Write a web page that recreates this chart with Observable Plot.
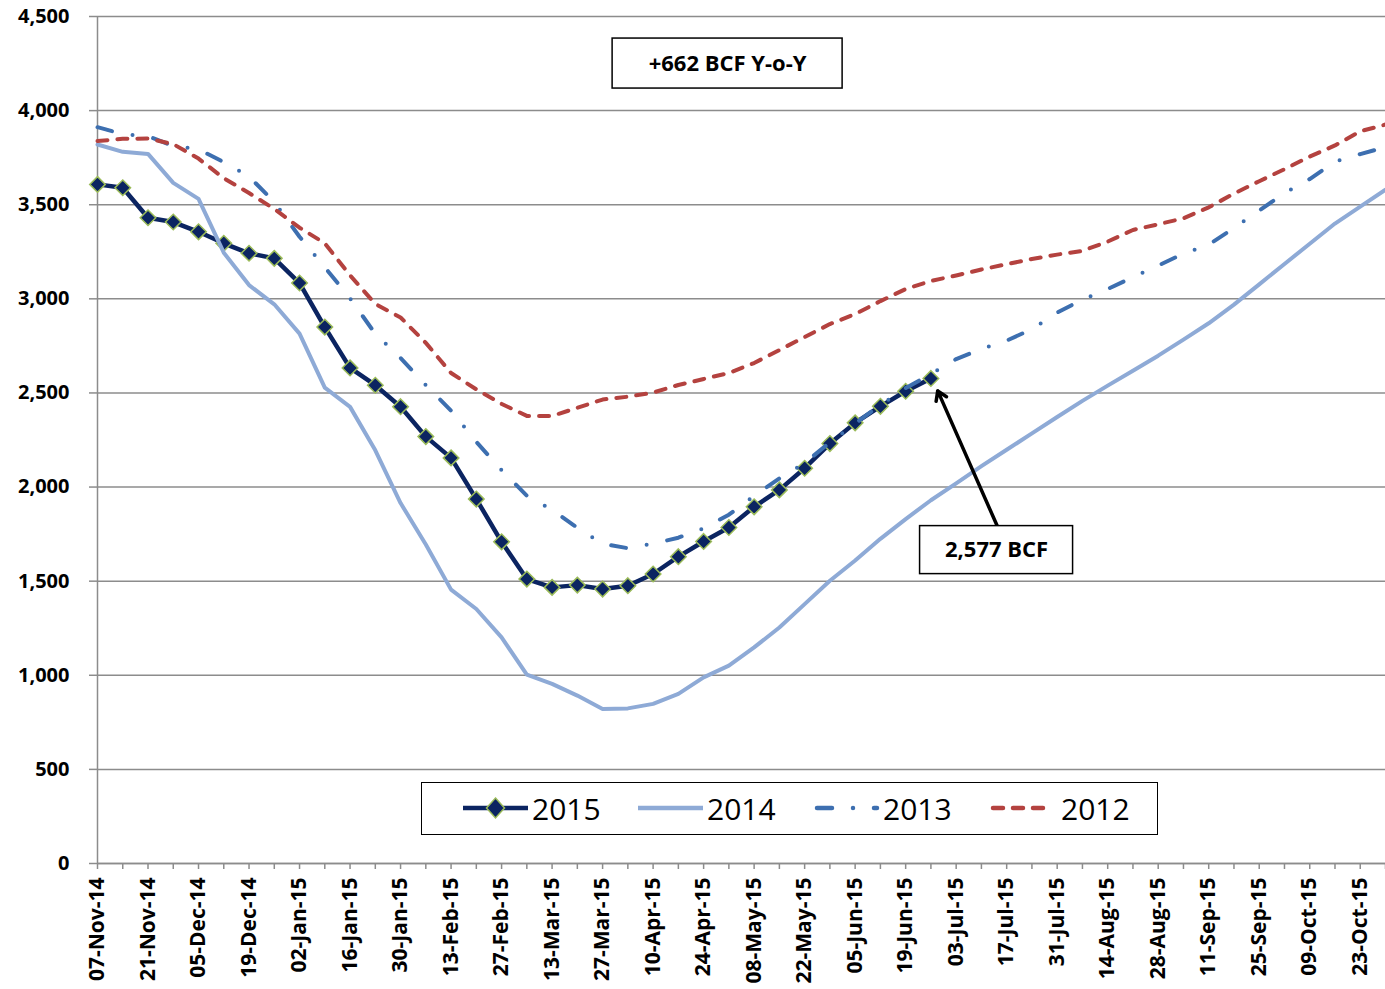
<!DOCTYPE html>
<html>
<head>
<meta charset="utf-8">
<script src="https://cdn.jsdelivr.net/npm/d3@7"></script>
<script src="https://cdn.jsdelivr.net/npm/@observablehq/plot@0.6"></script>
<style>
  body { margin: 0; background: #fff; }
  #wrap { position: relative; width: 1385px; height: 989px; font-family: "Open Sans", sans-serif; }
  #wrap > svg { position: absolute; left: 0; top: 0; }
  #legend { position: absolute; left: 421px; top: 782px; width: 737px; height: 53px; box-sizing: border-box;
            border: 1.5px solid #000; background: #fff; }
  #legend .item { position: absolute; top: 0; height: 50px; display: flex; align-items: center; }
  #legend .lab { font-size: 30px; color: #000; font-family: "Open Sans", sans-serif; }
</style>
</head>
<body>
<div id="wrap"></div>
<script>
// Week-ending dates (category axis)
const weeks = ["07-Nov-14","14-Nov-14","21-Nov-14","28-Nov-14","05-Dec-14","12-Dec-14","19-Dec-14","26-Dec-14",
  "02-Jan-15","09-Jan-15","16-Jan-15","23-Jan-15","30-Jan-15","06-Feb-15","13-Feb-15","20-Feb-15","27-Feb-15",
  "06-Mar-15","13-Mar-15","20-Mar-15","27-Mar-15","03-Apr-15","10-Apr-15","17-Apr-15","24-Apr-15",
  "01-May-15","08-May-15","15-May-15","22-May-15","29-May-15","05-Jun-15","12-Jun-15","19-Jun-15","26-Jun-15",
  "03-Jul-15","10-Jul-15","17-Jul-15","24-Jul-15","31-Jul-15","07-Aug-15","14-Aug-15","21-Aug-15","28-Aug-15",
  "04-Sep-15","11-Sep-15","18-Sep-15","25-Sep-15","02-Oct-15","09-Oct-15","16-Oct-15","23-Oct-15","30-Oct-15"];

// Storage (BCF) per series
const s2015 = [3608,3590,3431,3408,3356,3295,3242,3215,3084,2850,2633,2541,2427,2268,2155,1936,1709,1511,1467,1479,
  1458,1476,1538,1630,1711,1785,1895,1985,2100,2231,2341,2429,2509,2577];
const s2014 = [3820,3781,3770,3616,3531,3245,3073,2971,2815,2528,2426,2195,1915,1695,1455,1352,1201,1003,954,892,
  821,824,848,901,989,1051,1148,1254,1378,1502,1610,1725,1830,1930,2020,2111,2198,2285,2372,2458,
  2539,2618,2698,2783,2870,2969,3077,3185,3293,3400,3490,3580];
const s2013 = [3912,3875,3864,3812,3795,3726,3650,3514,3330,3168,3003,2814,2686,2542,2406,2240,2090,1954,1879,1784,
  1699,1675,1699,1731,1781,1853,1953,2046,2128,2237,2338,2436,2526,2600,2680,2733,2778,2839,2927,2996,
  3052,3115,3177,3240,3288,3376,3469,3562,3636,3729,3769,3806];
const s2012 = [3838,3850,3852,3822,3745,3641,3562,3478,3378,3295,3125,2973,2901,2766,2606,2519,2442,2378,2378,2421,
  2465,2480,2502,2542,2574,2606,2659,2728,2797,2866,2919,2988,3052,3095,3124,3156,3184,3212,3235,3255,
  3304,3366,3396,3428,3486,3559,3625,3689,3756,3815,3890,3926];

const seriesNames = ["2015","2014","2013","2012"];
const yTicks = [0,500,1000,1500,2000,2500,3000,3500,4000,4500];
const annotationTexts = ["+662 BCF Y-o-Y","2,577 BCF"];

const colors = {"2015":"#0b2461","2014":"#8eaad6","2013":"#3d6fb0","2012":"#b4423f"};
const markerStroke = "#9bbb59";
const gridColor = "#8c8c8c";

const toRows = arr => arr.map((v,i) => ({week:i, value:v}));
const r2015 = toRows(s2015), r2014 = toRows(s2014), r2013 = toRows(s2013), r2012 = toRows(s2012);

const allIdx = weeks.map((d,i) => i);
const labelIdx = allIdx.filter(i => i % 2 === 0);
const lastIdx = s2015.length - 1;

// annotation anchors in data space
const annotYoY = [{x: 24.95, y: 4250, text: annotationTexts[0]}];
const annotLast = [{x: 35.6, y: 1665, text: annotationTexts[1]}];
const arrowData = [{x1: 35.64, y1: 1789, x2: lastIdx + 0.27, y2: 2511}];

const boxMark = (data, halfW, halfH) => Plot.rect(data, {
  x1: "x", x2: "x", y1: "y", y2: "y",
  insetLeft: -halfW, insetRight: -halfW, insetTop: -halfH, insetBottom: -halfH,
  fill: "#fff", stroke: "#000", strokeWidth: 1.5
});

const chart = Plot.plot({
  width: 1385, height: 989,
  marginLeft: 97, marginRight: 0, marginTop: 16, marginBottom: 126,
  style: {fontFamily: "'Open Sans', sans-serif", color: "#000", background: "transparent", overflow: "visible"},
  x: {type: "linear", domain: [0, weeks.length - 1]},
  y: {domain: [0, 4500]},
  marks: [
    Plot.gridY(yTicks, {stroke: gridColor, strokeOpacity: 1, strokeWidth: 1.5}),
    Plot.axisY(yTicks, {tickFormat: d3.format(","), tickSize: 8, tickPadding: 20, stroke: gridColor,
      strokeWidth: 1.5, fontSize: 20, fontWeight: "bold", label: null}),
    Plot.axisX(allIdx, {tickSize: 6, tickFormat: () => "", stroke: gridColor, strokeWidth: 1.5, label: null}),
    Plot.axisX(labelIdx, {tickSize: 0, tickFormat: i => weeks[i], tickRotate: -90, tickPadding: 14,
      fontSize: 21, fontWeight: "bold", label: null}),
    Plot.ruleX([0], {stroke: gridColor, strokeWidth: 1.5}),
    Plot.ruleY([0], {stroke: gridColor, strokeWidth: 1.5}),
    Plot.line(r2015, {x: "week", y: "value", stroke: colors["2015"], strokeWidth: 4.5}),
    Plot.dot(r2015, {x: "week", y: "value", symbol: "diamond2", r: 7, fill: colors["2015"],
      stroke: markerStroke, strokeWidth: 1.5}),
    Plot.line(r2014, {x: "week", y: "value", stroke: colors["2014"], strokeWidth: 4}),
    Plot.line(r2013, {x: "week", y: "value", stroke: colors["2013"], strokeWidth: 4,
      strokeDasharray: "15,21,0,21", strokeLinecap: "round"}),
    Plot.line(r2012, {x: "week", y: "value", stroke: colors["2012"], strokeWidth: 4,
      strokeDasharray: "10,10", strokeLinecap: "round"}),
    Plot.arrow(arrowData, {x1: "x1", y1: "y1", x2: "x2", y2: "y2", stroke: "#000", strokeWidth: 3.5,
      headLength: 4.5, headAngle: 65}),
    boxMark(annotYoY, 115, 25),
    boxMark(annotLast, 76.5, 24),
    Plot.text(annotYoY, {x: "x", y: "y", text: "text", fontSize: 22, fontWeight: "bold", fill: "#000"}),
    Plot.text(annotLast, {x: "x", y: "y", text: "text", fontSize: 22, fontWeight: "bold", fill: "#000"})
  ]
});

const wrap = document.getElementById("wrap");
wrap.appendChild(chart);

// legend
const legend = document.createElement("div");
legend.id = "legend";
const swatch = (name, w) => {
  const s = {
    "2015": `<line x1="0" y1="10" x2="${w}" y2="10" stroke="${colors["2015"]}" stroke-width="4.5"/>
             <path d="M${w/2},0 L${w/2+9},10 L${w/2},20 L${w/2-9},10 Z" fill="${colors["2015"]}" stroke="${markerStroke}" stroke-width="1.5"/>`,
    "2014": `<line x1="0" y1="10" x2="${w}" y2="10" stroke="${colors["2014"]}" stroke-width="4.5"/>`,
    "2013": `<line x1="2" y1="10" x2="${w-2}" y2="10" stroke="${colors["2013"]}" stroke-width="4.5" stroke-dasharray="15,21,0,21" stroke-linecap="round"/>`,
    "2012": `<line x1="2" y1="10" x2="${w-2}" y2="10" stroke="${colors["2012"]}" stroke-width="4.5" stroke-dasharray="10,10" stroke-linecap="round"/>`
  }[name];
  return `<svg width="${w}" height="20" style="overflow:visible">${s}</svg>`;
};
const legendLayout = [
  {name: "2015", left: 41, w: 65, gap: 4},
  {name: "2014", left: 216, w: 65, gap: 4},
  {name: "2013", left: 393, w: 64, gap: 4},
  {name: "2012", left: 569, w: 57, gap: 13}
];
legendLayout.forEach(l => {
  const it = document.createElement("div");
  it.className = "item";
  it.style.left = l.left + "px";
  it.innerHTML = swatch(l.name, l.w) + `<span class="lab" style="margin-left:${l.gap}px">${l.name}</span>`;
  legend.appendChild(it);
});
wrap.appendChild(legend);
</script>
</body>
</html>
